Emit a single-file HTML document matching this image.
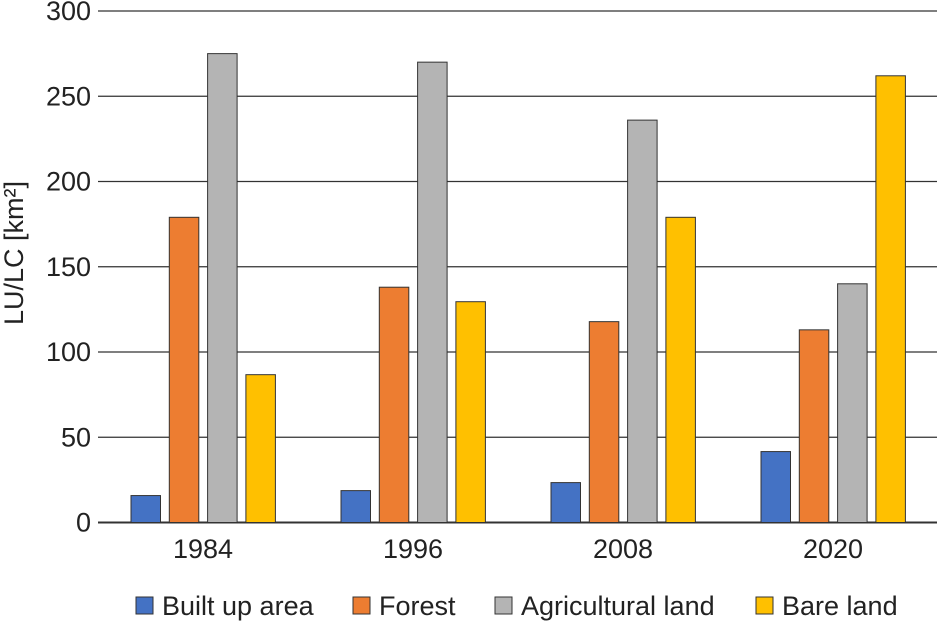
<!DOCTYPE html>
<html><head><meta charset="utf-8"><style>
body{margin:0;background:#fff;}
svg text{font-family:"Liberation Sans",Arial,sans-serif;fill:#222;}
</style></head><body>
<svg width="937" height="621" viewBox="0 0 937 621">
<g id="grid"></g><g id="bars"></g><g id="labels"></g>
<text transform="translate(23,253) rotate(-90)" text-anchor="middle" font-size="27">LU/LC [km²]</text>
<g id="legend"></g>
</svg>
<script>
const categories=["1984","1996","2008","2020"];
const seriesNames=["Built up area","Forest","Agricultural land","Bare land"];
const builtUp=[15.8,18.7,23.4,41.6];
const forest=[179,138,117.8,113];
const agricultural=[275,270,236,140];
const bareLand=[86.7,129.5,179,262];
const yTicks=[0,50,100,150,200,250,300];
const colors=["#4472c4","#ed7d31","#b4b4b4","#ffc000"];
const series=[builtUp,forest,agricultural,bareLand];
const NS="http://www.w3.org/2000/svg";
const x0=98,x1=937,y0=522.5,yTop=11,band=210;
const y=v=>y0-(v/300)*(y0-yTop);
const xg=i=>x0+band*i+band/2;
function mk(t,a,p){const e=document.createElementNS(NS,t);for(const k in a)e.setAttribute(k,a[k]);p.appendChild(e);return e;}
const grid=document.getElementById('grid'),bars=document.getElementById('bars'),labels=document.getElementById('labels'),legend=document.getElementById('legend');
yTicks.forEach(v=>{
 const l=mk('line',{x1:x0,x2:x1,y1:y(v),y2:y(v),stroke:'#333','stroke-width':v===0?2:1.3},grid);
 
 
 const t=mk('text',{x:91,y:y(v)+9,'text-anchor':'end','font-size':27},labels);
 t.textContent=v;
 
 
});
categories.forEach((c,i)=>{
 series.forEach((s,j)=>{
  const bx=xg(i)-72+j*38.3;
  const r=mk('rect',{x:bx,y:y(s[i]),width:29.5,height:y0-y(s[i]),fill:colors[j],stroke:'#333','stroke-width':1},bars);
  
  
 });
 const t=mk('text',{x:xg(i),y:558,'text-anchor':'middle','font-size':27},labels);
 t.textContent=c;
 
 
});
const lx=[136,353,495,756];
seriesNames.forEach((n,j)=>{
 const r=mk('rect',{x:lx[j],y:597,width:17,height:17,fill:colors[j],stroke:'#333','stroke-width':1},legend);
 
 
 const t=mk('text',{x:lx[j]+26,y:615,'font-size':27},legend);
 t.textContent=n;
 
 
});
</script>
</body></html>
